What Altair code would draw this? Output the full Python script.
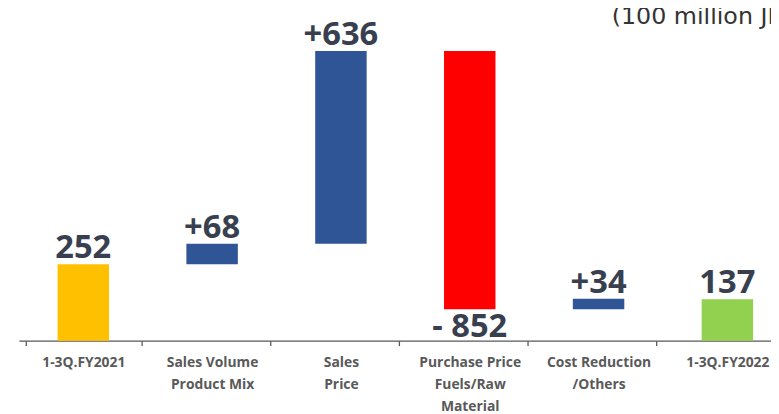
import altair as alt
import pandas as pd

categories = ["1-3Q.FY2021", "Sales Volume|Product Mix", "Sales|Price",
              "Purchase Price|Fuels/Raw|Material", "Cost Reduction|/Others", "1-3Q.FY2022"]
values = [252, 68, 636, -852, 34, 137]
kinds = ["total", "delta", "delta", "delta", "delta", "total"]
labels = ["252", "+68", "+636", "- 852", "+34", "137"]
colors = ["#FFC000", "#2F5597", "#2F5597", "#FF0000", "#2F5597", "#92D050"]
unit_text = "(100 million JPY)"

rows = []
run = 0
for c, v, k, l, col in zip(categories, values, kinds, labels, colors):
    if k == "total":
        start, end = 0, v
        run = v
    else:
        start, end = run, run + v
        run = run + v
    rows.append({"cat": c, "start": start, "end": end, "top": max(start, end),
                 "bottom": min(start, end), "label": l, "color": col,
                 "neg": v < 0})
df = pd.DataFrame(rows)

x_enc = alt.X(
    "cat:N", sort=categories,
    scale=alt.Scale(range=[0, 781]),
    axis=alt.Axis(
        title=None, labelAngle=0, tickBand="extent", tickSize=5,
        tickColor="#595959", tickWidth=1.3, domainColor="#595959", domainWidth=1.3,
        labelFont="Open Sans", labelFontWeight="bold", labelFontSize=14,
        labelColor="#595959", labelLineHeight=22.5, labelPadding=10,
        labelExpr="split(datum.label, '|')",
    ),
)
y_scale = alt.Scale(domain=[0, 1091], nice=False, zero=False)

base = alt.Chart(df)

bars = base.mark_bar(size=52).encode(
    x=x_enc,
    y=alt.Y("start:Q", scale=y_scale, axis=None),
    y2="end:Q",
    color=alt.Color("color:N", scale=None),
)

lab_up = base.transform_filter("!datum.neg").mark_text(
    font="Open Sans", fontWeight="bold", fontSize=33, color="#38404f",
    baseline="alphabetic", dy=-6,
).encode(
    x=alt.X("cat:N", sort=categories),
    y=alt.Y("top:Q", scale=y_scale),
    text="label:N",
)

lab_down = base.transform_filter("datum.neg").mark_text(
    font="Open Sans", fontWeight="bold", fontSize=33, color="#38404f",
    baseline="top", dy=2,
).encode(
    x=alt.X("cat:N", sort=categories),
    y=alt.Y("bottom:Q", scale=y_scale),
    text="label:N",
)

unit = alt.Chart(pd.DataFrame({"t": [unit_text]})).mark_text(
    font="DejaVu Sans", fontSize=24, color="#333333", align="left",
    baseline="alphabetic",
).encode(
    x=alt.value(599), y=alt.value(14.5), text="t:N",
)

chart = alt.layer(bars, lab_up, lab_down, unit).properties(
    width=760, height=334,
    autosize=alt.AutoSizeParams(type="none"),
    padding={"left": 11, "top": 0, "right": 0, "bottom": 72},
).configure_view(strokeWidth=0)

chart.save("out.html", embed_options={"renderer": "svg", "actions": False})
